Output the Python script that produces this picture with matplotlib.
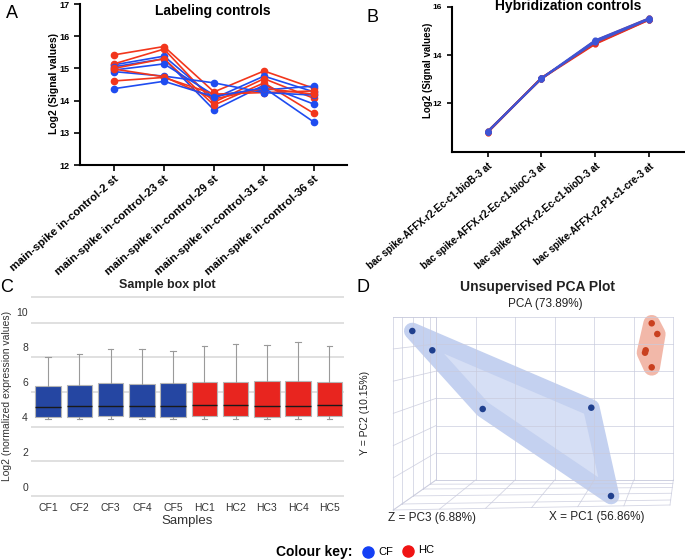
import numpy as np
import matplotlib
matplotlib.use('Agg')
import matplotlib.pyplot as plt
from matplotlib.patches import Polygon
from matplotlib.lines import Line2D
from matplotlib.ticker import FixedLocator

plt.rcParams['font.family'] = ['Liberation Sans', 'DejaVu Sans']

W, H = 685, 560
RED = '#f2361c'
BLUE = '#1f4cf0'

# A) labeling controls
lab_names = ['main-spike in-control-2 st', 'main-spike in-control-23 st',
             'main-spike in-control-29 st', 'main-spike in-control-31 st',
             'main-spike in-control-36 st']
lab_hc = [[15.42, 15.68, 14.27, 14.92, 14.38],
          [15.14, 15.60, 13.95, 14.68, 14.07],
          [15.00, 15.30, 13.86, 14.55, 13.60],
          [14.61, 14.72, 14.20, 14.25, 14.30],
          [14.98, 14.74, 14.05, 14.38, 14.20]]
lab_cf = [[15.11, 15.38, 14.07, 14.76, 14.27],
          [15.05, 15.30, 13.71, 14.48, 13.89],
          [14.95, 15.14, 14.17, 14.33, 14.45],
          [14.90, 14.76, 14.55, 14.25, 14.17],
          [14.37, 14.60, 14.12, 14.40, 13.33]]

# B) hybridization controls
hyb_names = ['bac spike-AFFX-r2-Ec-c1-bioB-3 at', 'bac spike-AFFX-r2-Ec-c1-bioC-3 at',
             'bac spike-AFFX-r2-Ec-c1-bioD-3 at', 'bac spike-AFFX-r2-P1-c1-cre-3 at']
hyb_hc = [[10.80, 13.02, 14.45, 15.45],
          [10.83, 13.05, 14.50, 15.48],
          [10.85, 13.00, 14.60, 15.52],
          [10.78, 13.04, 14.55, 15.50],
          [10.82, 13.06, 14.48, 15.46]]
hyb_cf = [[10.81, 13.03, 14.58, 15.50],
          [10.84, 13.05, 14.62, 15.53],
          [10.80, 13.01, 14.52, 15.47],
          [10.83, 13.04, 14.56, 15.51],
          [10.82, 13.02, 14.60, 15.49]]

# C) sample box plot
samples = ['CF1', 'CF2', 'CF3', 'CF4', 'CF5', 'HC1', 'HC2', 'HC3', 'HC4', 'HC5']
box_lo = [3.85, 3.85, 3.85, 3.85, 3.85, 3.85, 3.85, 3.85, 3.85, 3.85]
box_q1 = [4.0, 4.0, 4.02, 4.0, 4.0, 4.02, 4.02, 4.0, 4.02, 4.02]
box_med = [4.54, 4.61, 4.61, 4.63, 4.61, 4.65, 4.65, 4.61, 4.61, 4.69]
box_q3 = [5.75, 5.79, 5.94, 5.88, 5.90, 6.00, 6.00, 6.06, 6.04, 5.98]
box_hi = [7.39, 7.56, 7.89, 7.89, 7.75, 8.04, 8.13, 8.08, 8.27, 8.04]

# D) PCA (projected positions of the 3D view)
pca_cf_x = [32.3, 52.3, 102.7, 211.3, 231.0]
pca_cf_y = [189.0, 169.7, 111.0, 112.3, 24.0]
pca_hc_x = [271.7, 277.3, 265.7, 265.0, 271.7]
pca_hc_y = [196.7, 186.0, 169.7, 167.3, 152.7]


def rect(x0, y0, x1, y1):
    return [x0 / W, 1 - y1 / H, (x1 - x0) / W, (y1 - y0) / H]


def ftext(x, y, s, **kw):
    fig.text(x / W, 1 - y / H, s, **kw)


fig = plt.figure(figsize=(6.85, 5.6), dpi=100)

# ---- A
axA = fig.add_axes(rect(80, 4, 347, 165))
xa = np.arange(len(lab_names))
for hc, cf in zip(lab_hc, lab_cf):
    axA.plot(xa, hc, color=RED, lw=1.2, marker='o', ms=4.5)
    axA.plot(xa, cf, color=BLUE, lw=1.2, marker='o', ms=4.5)
axA.set_xlim(-0.68, 4.66)
axA.set_ylim(12, 17)
axA.set_yticks(range(12, 18))
axA.set_xticks(xa)
axA.set_xticklabels(lab_names, rotation=41, ha='right', va='top',
                    rotation_mode='anchor', fontsize=8.2, fontweight='bold')
for t in axA.get_yticklabels():
    t.set_fontweight('bold')
axA.tick_params(labelsize=6.5, width=1.2, length=4)
axA.tick_params(axis='x', labelsize=8.2, pad=2)
for s in ['top', 'right']:
    axA.spines[s].set_visible(False)
for s in ['left', 'bottom']:
    axA.spines[s].set_linewidth(1.5)
ftext(54, 84, 'Log2 (Signal values)', rotation=90, ha='center', va='center',
      fontsize=7.5, fontweight='bold')
ftext(213, 11, 'Labeling controls', ha='center', va='center', fontsize=10, fontweight='bold')
ftext(6, 14, 'A', ha='left', va='center', fontsize=13)

# ---- B
axB = fig.add_axes(rect(452, 6.7, 685, 151.7))
xb = np.arange(len(hyb_names))
for hc in hyb_hc:
    axB.plot(xb, hc, color='#e8301c', lw=1.3, marker='o', ms=3.5)
for cf in hyb_cf:
    axB.plot(xb, cf, color='#3d55d6', lw=1.1, marker='o', ms=3.5, alpha=0.9)
axB.set_xlim(-0.66, 3.67)
axB.set_ylim(10, 16)
axB.set_yticks([12, 14, 16])
axB.set_xticks(xb)
axB.set_xticklabels(hyb_names, rotation=40, ha='right', va='top',
                    rotation_mode='anchor', fontsize=7, fontweight='bold')
for t in axB.get_yticklabels():
    t.set_fontweight('bold')
axB.tick_params(labelsize=6, width=1.2, length=3.5)
axB.tick_params(axis='x', labelsize=7)
for s in ['top', 'right']:
    axB.spines[s].set_visible(False)
for s in ['left', 'bottom']:
    axB.spines[s].set_linewidth(1.5)
ftext(428, 70, 'Log2 (Signal values)', rotation=90, ha='center', va='center',
      fontsize=7, fontweight='bold')
ftext(568, 6, 'Hybridization controls', ha='center', va='center', fontsize=10, fontweight='bold')
ftext(367, 17, 'B', ha='left', va='center', fontsize=13)

# ---- C
axC = fig.add_axes(rect(30.7, 295.1, 344, 497.2))
stats = [dict(whislo=lo, q1=q1, med=md, q3=q3, whishi=hi, fliers=[])
         for lo, q1, md, q3, hi in zip(box_lo, box_q1, box_med, box_q3, box_hi)]
bp = axC.bxp(stats, positions=range(len(samples)), widths=0.82, patch_artist=True,
             showfliers=False, capwidths=0.18,
             boxprops=dict(edgecolor='#b5b5b5', lw=0.8),
             medianprops=dict(color='#1a1a1a', lw=1.0),
             whiskerprops=dict(color='#9a9a9a', lw=0.8),
             capprops=dict(color='#9a9a9a', lw=0.8))
for patch, name in zip(bp['boxes'], samples):
    patch.set_facecolor('#2546a2' if name.startswith('CF') else '#e8251f')
axC.set_xlim(-0.56, 9.47)
axC.set_ylim(-0.6, 10.95)
axC.set_yticks(range(0, 11, 2))
axC.yaxis.set_minor_locator(FixedLocator([-0.51, 1.45, 3.43, 5.4, 7.4, 9.37, 10.86]))
axC.grid(which='minor', axis='y', color='#dadada', lw=1.2)
axC.set_axisbelow(True)
axC.set_xticks(range(len(samples)))
axC.set_xticklabels(samples)
axC.tick_params(length=0, which='both', labelsize=7.5, labelcolor='#333333')
axC.tick_params(axis='x', pad=4)
axC.tick_params(axis='y', pad=2)
for s in axC.spines.values():
    s.set_visible(False)
ftext(187, 521, 'Samples', ha='center', va='center', fontsize=9.5, color='#333333')
ftext(7.5, 396, 'Log2 (normalized expression values)', rotation=90, ha='center',
      va='center', fontsize=7.5, color='#333333')
ftext(167, 285, 'Sample box plot', ha='center', va='center', fontsize=9, fontweight='bold',
      color='#222222')
ftext(0, 288, 'C', ha='left', va='center', fontsize=13)

# ---- D
axD = fig.add_axes(rect(380, 280, 685, 520))
axD.set_xlim(0, 305)
axD.set_ylim(0, 240)
axD.axis('off')

grid_kw = dict(color='#c9cbdd', lw=0.6, alpha=0.8, zorder=2)
bx0, bx1, by0, by1 = 56, 293.3, 40, 203.3
fx0, fy0, fx1, fy1 = 13.3, 10, 290, 15
for x in np.linspace(bx0, bx1, 7):
    axD.plot([x, x], [by0, by1], **grid_kw)
for y in np.linspace(by0, by1, 7):
    axD.plot([bx0, bx1], [y, y], **grid_kw)
depth = np.array([0, 0.2, 0.47, 0.7, 0.86, 1.0])
for f in depth:
    x = fx0 + (bx0 - fx0) * f
    axD.plot([x, x], [fy0 + (by0 - fy0) * f, by1], **grid_kw)
    axD.plot([x, fx1 + (bx1 - fx1) * f], [fy0 + (by0 - fy0) * f, fy1 + (by0 - fy1) * f], **grid_kw)
for yf, yb in zip(np.linspace(fy0, by1, 7), np.linspace(by0, by1, 7)):
    axD.plot([fx0, bx0], [yf, yb], **grid_kw)
for xb_, xf_, yf_ in zip(np.linspace(bx0, bx1, 7), np.linspace(fx0, fx1, 7), np.linspace(fy0, fy1, 7)):
    axD.plot([xb_, xf_], [by0, yf_], **grid_kw)
axD.plot([fx0, bx0], [by1, by1], **grid_kw)


def convex_hull(xs, ys):
    pts = sorted(set(zip(xs, ys)))

    def cross(o, a, b):
        return (a[0] - o[0]) * (b[1] - o[1]) - (a[1] - o[1]) * (b[0] - o[0])
    lower, upper = [], []
    for p in pts:
        while len(lower) >= 2 and cross(lower[-2], lower[-1], p) <= 0:
            lower.pop()
        lower.append(p)
    for p in reversed(pts):
        while len(upper) >= 2 and cross(upper[-2], upper[-1], p) <= 0:
            upper.pop()
        upper.append(p)
    return lower[:-1] + upper[:-1]


axD.add_patch(Polygon(convex_hull(pca_cf_x, pca_cf_y), closed=True, fc='#d6dff5',
                      ec='#c4d1f0', lw=12, joinstyle='round', zorder=1))
axD.add_patch(Polygon(convex_hull(pca_hc_x, pca_hc_y), closed=True, fc='#f6c6ba',
                      ec='#f2b8a9', lw=12, joinstyle='round', zorder=1))
axD.scatter(pca_cf_x, pca_cf_y, s=22, color='#1f3f8e', edgecolor='none', zorder=3)
axD.scatter(pca_hc_x, pca_hc_y, s=22, color='#c9401f', edgecolor='none', zorder=3)

ftext(538, 287, 'Unsupervised PCA Plot', ha='center', va='center', fontsize=10,
      fontweight='bold', color='#222222')
ftext(545, 304, 'PCA (73.89%)', ha='center', va='center', fontsize=8.5, color='#222222')
ftext(365, 413, 'Y = PC2 (10.15%)', rotation=90, ha='center', va='center', fontsize=7.5,
      color='#222222')
ftext(432, 518, 'Z = PC3 (6.88%)', ha='center', va='center', fontsize=8.5, color='#222222')
ftext(597, 517, 'X = PC1 (56.86%)', ha='center', va='center', fontsize=8.5, color='#222222')
ftext(356, 288, 'D', ha='left', va='center', fontsize=13)

# colour key
ftext(314, 552, 'Colour key:', ha='center', va='center', fontsize=10, fontweight='bold')
fig.add_artist(Line2D([368 / W], [1 - 552 / H], marker='o', ms=8, color='#1440f5',
                      transform=fig.transFigure))
ftext(378, 552, 'CF', ha='left', va='center', fontsize=8)
fig.add_artist(Line2D([408 / W], [1 - 551 / H], marker='o', ms=8, color='#f01414',
                      transform=fig.transFigure))
ftext(418, 550, 'HC', ha='left', va='center', fontsize=8)

fig.savefig('out.png', dpi=100)
